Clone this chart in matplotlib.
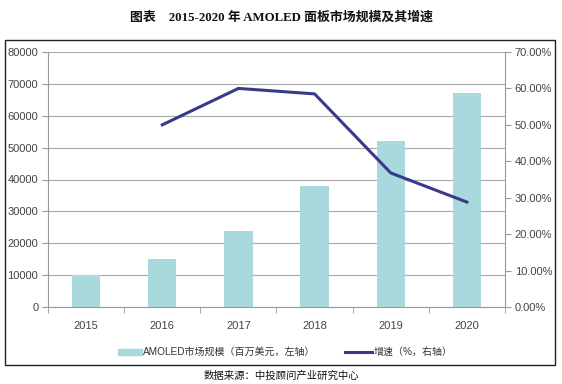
import matplotlib
matplotlib.use("Agg")
import matplotlib.pyplot as plt
from matplotlib.patches import Rectangle
from matplotlib.lines import Line2D
import numpy as np

plt.rcParams['font.family'] = ['Liberation Sans', 'Noto Sans CJK SC']

years = ['2015', '2016', '2017', '2018', '2019', '2020']
market = [10000, 15000, 24000, 38000, 52000, 67000]
growth_years = ['2016', '2017', '2018', '2019', '2020']
growth = [0.50, 0.60, 0.585, 0.368, 0.288]

fig = plt.figure(figsize=(5.62, 3.84), dpi=100)
W, H = 562, 384
ax = fig.add_axes([48 / W, 1 - 307 / H, (505 - 48) / W, (307 - 52) / H])

x = np.arange(len(years))
ax.bar(x, market, width=0.37, color='#a9d9dc', zorder=2)
ax.set_xlim(-0.5, len(years) - 0.5)
ax.set_ylim(0, 80000)
ax.set_yticks(np.arange(0, 80001, 10000))
ax.set_yticklabels([str(v) for v in range(0, 80001, 10000)], fontsize=8, color='#444444')
ax.set_xticks(x)
ax.set_xticklabels(years, fontsize=8, color='#444444')
ax.set_xticks(np.arange(-0.5, len(years), 1), minor=True)
ax.tick_params(axis='x', which='major', length=0, pad=10)
ax.tick_params(axis='x', which='minor', length=4, color='#999999')
ax.tick_params(axis='y', length=4, color='#999999', pad=3)
ax.grid(axis='y', color='#aaaaaa', linewidth=0.8, zorder=0)
for s in ['top', 'right']:
    ax.spines[s].set_visible(False)
for s in ['left', 'bottom']:
    ax.spines[s].set_color('#999999')

ax2 = ax.twinx()
gx = [years.index(y) for y in growth_years]
ax2.plot(gx, growth, color='#3a3a8c', linewidth=2.2, zorder=3)
ax2.set_ylim(0, 0.70)
ax2.set_yticks(np.arange(0, 0.7001, 0.10))
ax2.set_yticklabels([f'{v:.2f}%' for v in np.arange(0, 70.01, 10)], fontsize=8, color='#444444')
ax2.tick_params(axis='y', length=4, color='#999999', pad=3)
for s in ['top', 'left', 'bottom']:
    ax2.spines[s].set_visible(False)
ax2.spines['right'].set_color('#999999')

# outer frame
fig.patches.append(Rectangle((5 / W, 1 - 365 / H), 550 / W, (365 - 40) / H,
                             transform=fig.transFigure, fill=False,
                             edgecolor='#222222', linewidth=1.0))

# title
fig.text(0.5, 1 - 17 / H, '图表    2015-2020 年 AMOLED 面板市场规模及其增速',
         ha='center', va='center', fontsize=9.3, fontweight='bold',
         family=['Liberation Serif', 'Noto Sans CJK SC'], color='#111111')

# legend
leg_y = 1 - 352 / H
fig.patches.append(Rectangle((118 / W, leg_y - 3 / H), 24 / W, 6 / H,
                             transform=fig.transFigure, color='#a9d9dc'))
fig.text(143 / W, leg_y, 'AMOLED市场规模（百万美元，左轴）', ha='left', va='center',
         fontsize=7.2, color='#333333')
fig.lines.append(Line2D([345 / W, 372 / W], [leg_y, leg_y], transform=fig.transFigure,
                        color='#3a3a8c', linewidth=2.2))
fig.text(374 / W, leg_y, '增速（%，右轴）', ha='left', va='center',
         fontsize=7.2, color='#333333')

fig.text(0.5, 1 - 376 / H, '数据来源：中投顾问产业研究中心', ha='center', va='center',
         fontsize=7.5, family=['Noto Sans CJK SC'], color='#111111')

fig.savefig('out.png', dpi=100)
